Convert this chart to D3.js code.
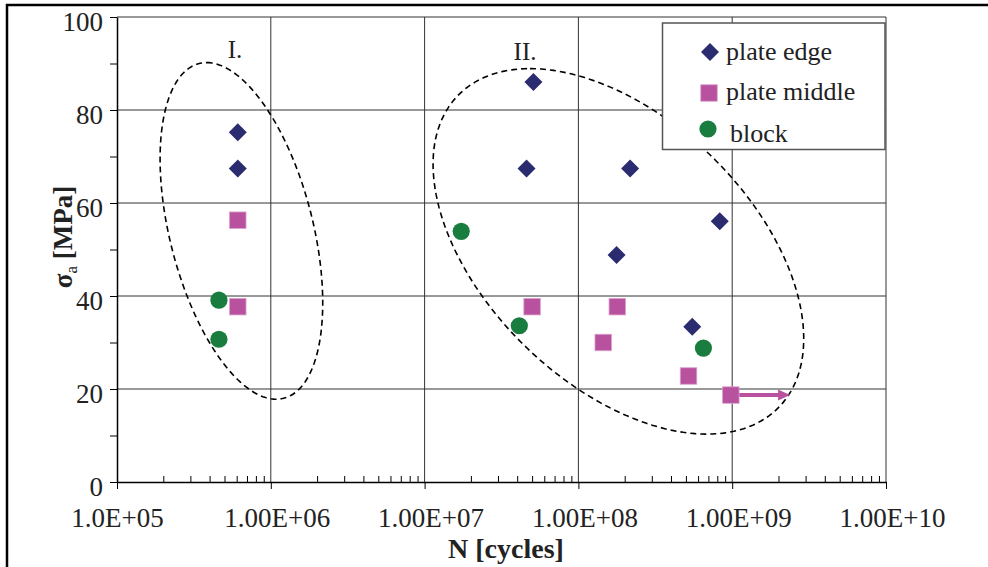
<!DOCTYPE html>
<html>
<head>
<meta charset="utf-8">
<script src="https://cdn.jsdelivr.net/npm/d3@7"></script>
<style>
  body { margin: 0; background: #fff; }
  svg text { font-family: "Liberation Serif", "Times New Roman", serif; fill: #222; }
</style>
</head>
<body>
<div class="chart"></div>
<script>
// data
var xTickValues = [1e5, 1e6, 1e7, 1e8, 1e9, 1e10];
var xTickLabels = ["1.0E+05", "1.00E+06", "1.00E+07", "1.00E+08", "1.00E+09", "1.00E+10"];
var yTickValues = [0, 20, 40, 60, 80, 100];
var yMinorValues = [10, 30, 50, 70, 90];

var seriesNames = ["plate edge", "plate middle", "block"];
var seriesColors = ["#2b2b70", "#b8529f", "#1a7d40"];

var edgeN = [6.1e5, 6.1e5, 5.1e7, 4.6e7, 2.17e8, 1.77e8, 8.3e8, 5.5e8];
var edgeS = [75.2, 67.4, 86.0, 67.4, 67.4, 48.8, 56.1, 33.4];
var middleN = [6.1e5, 6.1e5, 5.0e7, 1.79e8, 1.45e8, 5.2e8, 9.8e8];
var middleS = [56.3, 37.7, 37.7, 37.7, 30.0, 22.8, 18.7];
var blockN = [4.6e5, 4.6e5, 1.73e7, 4.13e7, 6.5e8];
var blockS = [39.1, 30.7, 53.9, 33.6, 28.8];

// run-out arrow (plate middle specimen not broken)
var runoutFrom = [9.8e8, 18.7];
var runoutTo = [2.38e9, 18.7];

// dashed cluster ellipses: centre, conjugate half-axes (decades, MPa)
var clusterNames = ["I.", "II."];
var clusterCenterN = [6.44e5, 1.82e8];
var clusterCenterS = [54.0, 49.6];
var clusterAxisA = [[-0.226, 36.2], [-0.575, 39.3]];
var clusterAxisB = [0.478, 1.059];
var clusterLabelN = [5.85e5, 4.5e7];
var clusterLabelS = [91.2, 90.8];

var svgWidth = 988, svgHeight = 567;
var margin = {top: 17, right: 102, bottom: 85, left: 117};
var width = svgWidth - margin.left - margin.right;
var height = svgHeight - margin.top - margin.bottom;

var svg = d3.select(".chart").append("svg")
  .attr("width", svgWidth)
  .attr("height", svgHeight);

// outer frame
svg.append("rect")
  .attr("x", 7).attr("y", 5)
  .attr("width", 1100).attr("height", 700)
  .attr("fill", "none").attr("stroke", "#000").attr("stroke-width", 2.5);

var chart = svg.append("g")
  .attr("transform", "translate(" + margin.left + "," + margin.top + ")");

var x = d3.scaleLog().domain([1e5, 1e10]).range([0, width]);
var y = d3.scaleLinear().domain([0, 100]).range([height, 0]);

// grid
chart.append("g").selectAll("line")
  .data(yTickValues.slice(1))
  .enter().append("line")
  .attr("x1", 0).attr("x2", width)
  .attr("y1", function(d) { return y(d); })
  .attr("y2", function(d) { return y(d); })
  .attr("stroke", "#333").attr("stroke-width", 1);

chart.append("g").selectAll("line")
  .data(xTickValues.slice(1))
  .enter().append("line")
  .attr("y1", 0).attr("y2", height)
  .attr("x1", function(d) { return x(d); })
  .attr("x2", function(d) { return x(d); })
  .attr("stroke", "#333").attr("stroke-width", 1);

// x minor ticks (inside)
var xMinor = [];
xTickValues.slice(0, -1).forEach(function(dec) {
  for (var k = 2; k <= 9; k++) xMinor.push(dec * k);
});
chart.append("g")
  .attr("transform", "translate(0," + height + ")")
  .call(d3.axisBottom(x).tickValues(xMinor).tickSize(-6).tickSizeOuter(0).tickFormat(""))
  .call(function(g) { g.select(".domain").remove(); })
  .selectAll("line").attr("stroke", "#000");

// x axis
var xAxis = chart.append("g")
  .attr("transform", "translate(0," + height + ")")
  .call(d3.axisBottom(x).tickValues(xTickValues).tickSize(7).tickSizeOuter(0)
    .tickPadding(19)
    .tickFormat(function(d, i) { return xTickLabels[i]; }));
xAxis.select(".domain").attr("stroke", "#000").attr("stroke-width", 1.5);
xAxis.selectAll("text")
  .attr("dx", function(d, i) { return i === 0 ? 0 : 6; })
  .style("font-size", "27px").attr("fill", "#222");

// y minor ticks
chart.append("g")
  .call(d3.axisLeft(y).tickValues(yMinorValues).tickSize(7).tickSizeOuter(0).tickFormat(""))
  .call(function(g) { g.select(".domain").remove(); });

// y axis
var yAxis = chart.append("g")
  .call(d3.axisLeft(y).tickValues(yTickValues).tickSize(7).tickSizeOuter(0).tickPadding(7));
yAxis.select(".domain").attr("stroke", "#000").attr("stroke-width", 1.5);
yAxis.selectAll("text")
  .attr("dy", 13)
  .style("font-size", "27px").attr("fill", "#222");

// cluster ellipses
var ellipseLine = d3.line()
  .x(function(p) { return x(p[0]); })
  .y(function(p) { return y(p[1]); })
  .curve(d3.curveLinearClosed);

clusterNames.forEach(function(name, i) {
  var pts = d3.range(0, 2 * Math.PI, Math.PI / 90).map(function(t) {
    var lg = Math.log10(clusterCenterN[i]) + clusterAxisA[i][0] * Math.cos(t) + clusterAxisB[i] * Math.sin(t);
    var s = clusterCenterS[i] + clusterAxisA[i][1] * Math.cos(t);
    return [Math.pow(10, lg), s];
  });
  chart.append("path")
    .attr("d", ellipseLine(pts))
    .attr("fill", "none")
    .attr("stroke", "#000")
    .attr("stroke-width", 1.6)
    .attr("stroke-dasharray", "6,4");

  chart.append("text")
    .attr("x", x(clusterLabelN[i]))
    .attr("y", y(clusterLabelS[i]))
    .attr("text-anchor", "middle")
    .style("font-size", "25px")
    .text(name);
});

// legend box
var legend = svg.append("g");
legend.append("rect")
  .attr("x", 662.5).attr("y", 23)
  .attr("width", 222.5).attr("height", 126.5)
  .attr("fill", "#fff").attr("stroke", "#555").attr("stroke-width", 1.5);

// marker drawing helpers
function drawDiamond(g, cx, cy, color) {
  var r = 9;
  g.append("path")
    .attr("d", "M" + cx + "," + (cy - r) + "L" + (cx + r) + "," + cy + "L" + cx + "," + (cy + r) + "L" + (cx - r) + "," + cy + "Z")
    .attr("fill", color);
}
function drawSquare(g, cx, cy, color) {
  var s = 16.5;
  g.append("rect")
    .attr("x", cx - s / 2).attr("y", cy - s / 2)
    .attr("width", s).attr("height", s)
    .attr("fill", color).attr("stroke", "#dca0cf").attr("stroke-width", 0.8);
}
function drawCircle(g, cx, cy, color) {
  g.append("circle").attr("cx", cx).attr("cy", cy).attr("r", 8.6).attr("fill", color);
}

// run-out arrow (under the marker)
var ax0 = x(runoutFrom[0]), ay = y(runoutFrom[1]), ax1 = x(runoutTo[0]);
chart.append("line")
  .attr("x1", ax0).attr("x2", ax1 - 11)
  .attr("y1", ay).attr("y2", ay)
  .attr("stroke", seriesColors[1]).attr("stroke-width", 4);
chart.append("path")
  .attr("d", "M" + ax1 + "," + ay + "L" + (ax1 - 12) + "," + (ay - 5.5) + "L" + (ax1 - 12) + "," + (ay + 5.5) + "Z")
  .attr("fill", seriesColors[1]);

// points
var pts = chart.append("g");
edgeN.forEach(function(n, i) { drawDiamond(pts, x(n), y(edgeS[i]), seriesColors[0]); });
middleN.forEach(function(n, i) { drawSquare(pts, x(n), y(middleS[i]), seriesColors[1]); });
blockN.forEach(function(n, i) { drawCircle(pts, x(n), y(blockS[i]), seriesColors[2]); });

// legend entries
drawDiamond(legend, 710, 52, seriesColors[0]);
drawSquare(legend, 709, 93, seriesColors[1]);
drawCircle(legend, 708, 129, seriesColors[2]);
var legendX = [726, 726, 730];
var legendY = [60, 100, 141.5];
seriesNames.forEach(function(name, i) {
  legend.append("text")
    .attr("x", legendX[i]).attr("y", legendY[i])
    .style("font-size", "26px")
    .text(name);
});

// axis titles
svg.append("text")
  .attr("x", 506).attr("y", 558)
  .attr("text-anchor", "middle")
  .style("font-size", "28px").style("font-weight", "bold")
  .text("N [cycles]");

var yTitle = svg.append("text")
  .attr("transform", "translate(72,237) rotate(-90)")
  .attr("text-anchor", "middle")
  .style("font-size", "27px").style("font-weight", "bold");
yTitle.append("tspan").text("σ");
yTitle.append("tspan").attr("dy", 5).style("font-size", "17px").style("font-weight", "normal").text("a");
yTitle.append("tspan").attr("dy", -5).text(" [MPa]");
</script>
</body>
</html>
